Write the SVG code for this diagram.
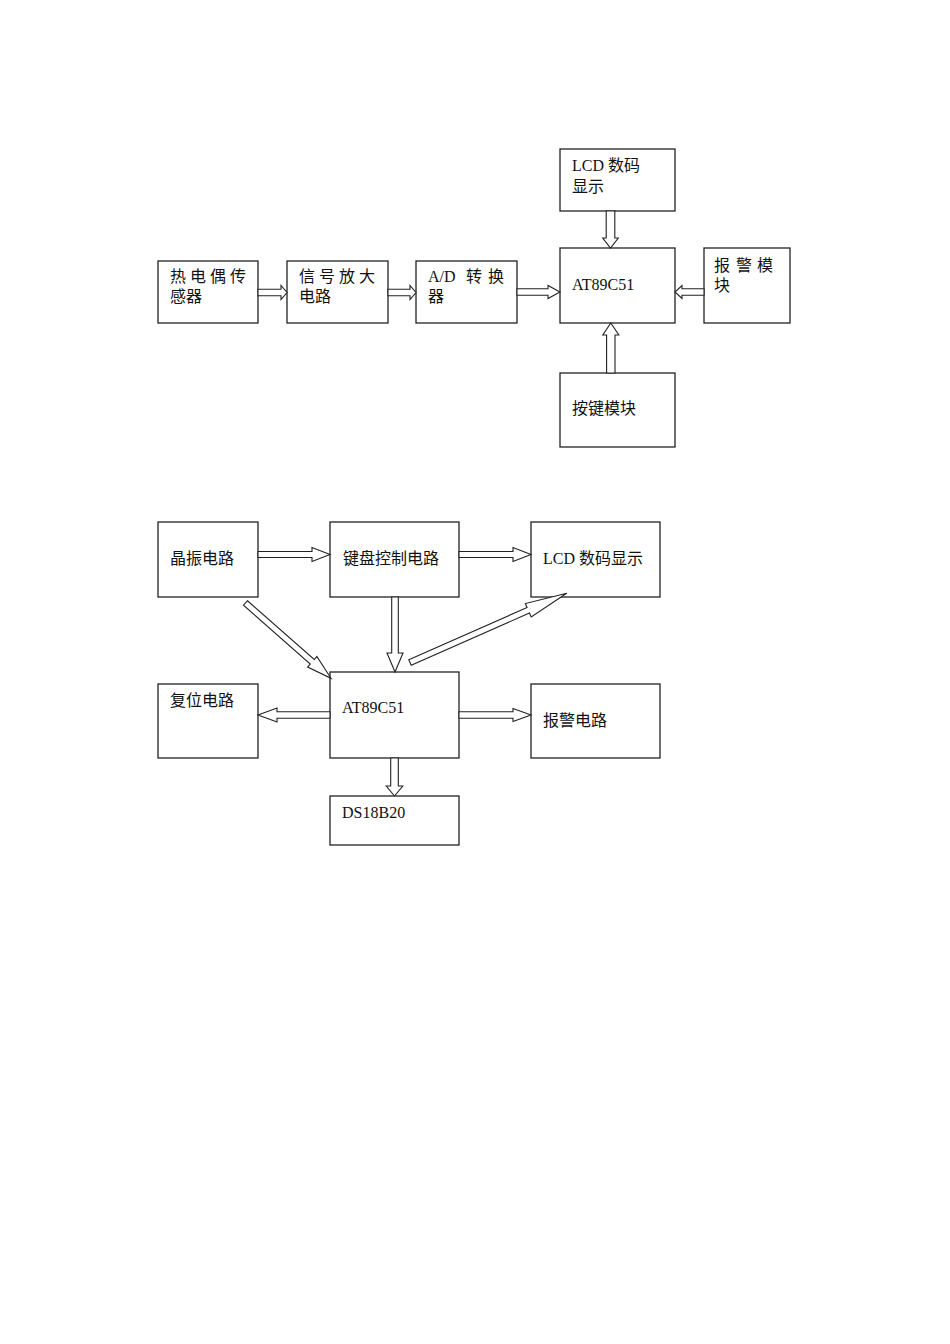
<svg xmlns="http://www.w3.org/2000/svg" width="950" height="1344" viewBox="0 0 950 1344">
<style>
.box{fill:#fff;stroke:#222;stroke-width:1.3}
.arr{fill:#fff;stroke:#222;stroke-width:1.1;stroke-linejoin:miter}
text{font-family:"Liberation Serif","Noto Sans CJK SC",serif;font-size:16px;fill:#111}
</style>
<rect width="950" height="1344" fill="#fff"/>
<!-- top diagram -->
<g id="thermocouple"><rect class="box" x="158" y="261" width="100" height="62"/><text x="170" y="282">热 电 偶 传</text><text x="170" y="302">感器</text></g>
<g id="amplifier"><rect class="box" x="287" y="261" width="101" height="62"/><text x="299" y="282">信 号 放 大</text><text x="299" y="302">电路</text></g>
<g id="adc"><rect class="box" x="416" y="261" width="101" height="62"/><text x="428" y="282">A/D</text><text x="466" y="282">转</text><text x="488" y="282">换</text><text x="428" y="302">器</text></g>
<g id="mcu1"><rect class="box" x="560" y="248" width="115" height="75"/><text x="572" y="290">AT89C51</text></g>
<g id="lcd1"><rect class="box" x="560" y="149" width="115" height="62"/><text x="572" y="171">LCD 数码</text><text x="572" y="192">显示</text></g>
<g id="alarm1"><rect class="box" x="704" y="248" width="86" height="75"/><text x="714" y="271">报</text><text x="736" y="271">警</text><text x="757" y="271">模</text><text x="714" y="291">块</text></g>
<g id="keys1"><rect class="box" x="560" y="373" width="115" height="74"/><text x="572" y="414">按键模块</text></g>
<!-- bottom diagram -->
<g id="crystal"><rect class="box" x="158" y="522" width="100" height="75"/><text x="170" y="564">晶振电路</text></g>
<g id="keyctrl"><rect class="box" x="330" y="522" width="129" height="75"/><text x="343" y="564">键盘控制电路</text></g>
<g id="lcd2"><rect class="box" x="531" y="522" width="129" height="75"/><text x="543" y="564">LCD 数码显示</text></g>
<g id="reset"><rect class="box" x="158" y="684" width="100" height="74"/><text x="170" y="706">复位电路</text></g>
<g id="mcu2"><rect class="box" x="330" y="672" width="129" height="86"/><text x="342" y="713">AT89C51</text></g>
<g id="alarm2"><rect class="box" x="531" y="684" width="129" height="74"/><text x="543" y="726">报警电路</text></g>
<g id="ds18b20"><rect class="box" x="330" y="796" width="129" height="49"/><text x="342" y="818">DS18B20</text></g>
<g id="connectors">
<polygon class="arr" points="258,289.2 281,289.2 281,285.5 287,292.5 281,299.5 281,295.8 258,295.8"/>
<polygon class="arr" points="388,289.2 410,289.2 410,285.5 416,292.5 410,299.5 410,295.8 388,295.8"/>
<polygon class="arr" points="517,288.7 548,288.7 548,285.5 560,292 548,298.5 548,295.3 517,295.3"/>
<polygon class="arr" points="606.2,211 614.8,211 614.8,238 618.3,238 610.5,248 602.7,238 606.2,238"/>
<polygon class="arr" points="704,288.7 682,288.7 682,285.5 675,292 682,298.5 682,295.3 704,295.3"/>
<polygon class="arr" points="606.6,373 606.6,335 602.8,335 610.8,323 618.8,335 615,335 615,373"/>
<polygon class="arr" points="258,551.5 312,551.5 312,547.5 330,554.5 312,561.5 312,557.5 258,557.5"/>
<polygon class="arr" points="459,551.5 513,551.5 513,547.5 531,554.5 513,561.5 513,557.5 459,557.5"/>
<polygon class="arr" points="391.7,597 398.3,597 398.3,653 403,653 395,672 387,653 391.7,653"/>
<polygon class="arr" points="330,711.7 277,711.7 277,708 258,715 277,722 277,718.3 330,718.3"/>
<polygon class="arr" points="459,711.7 513,711.7 513,708.5 531,715 513,721.5 513,718.3 459,718.3"/>
<polygon class="arr" points="390.7,758 398.3,758 398.3,786 402.8,786 394.5,796 386.2,786 390.7,786"/>
<polygon class="arr" points="247.48,600.75 314.21,659.52 316.86,656.52 331,678.3 307.6,667.02 310.25,664.02 243.52,605.25"/>
<polygon class="arr" points="408.79,659.76 527.07,607.53 525.33,603.59 566.7,593.3 531.23,616.95 529.49,613.01 411.21,665.24"/>
</g>
</svg>
